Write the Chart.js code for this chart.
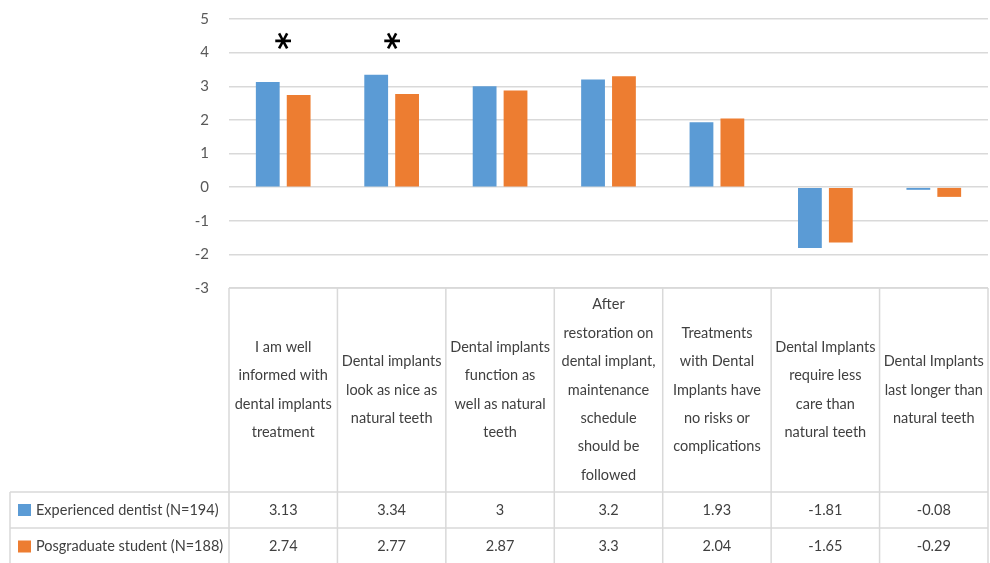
<!DOCTYPE html>
<html>
<head>
<meta charset="utf-8">
<script src="https://cdn.jsdelivr.net/npm/chart.js@4.4.1/dist/chart.umd.min.js"></script>
<style>
  html, body { margin: 0; padding: 0; background: #ffffff; }
  canvas { display: block; }
</style>
</head>
<body>
<canvas id="c" width="990" height="563"></canvas>
<script>
// Survey statements (wrapped as shown in the table header)
const categories = [
  ["I am well", "informed with", "dental implants", "treatment"],
  ["Dental implants", "look as nice as", "natural teeth"],
  ["Dental implants", "function as", "well as natural", "teeth"],
  ["After", "restoration on", "dental implant,", "maintenance", "schedule", "should be", "followed"],
  ["Treatments", "with Dental", "Implants have", "no risks or", "complications"],
  ["Dental Implants", "require less", "care than", "natural teeth"],
  ["Dental Implants", "last longer than", "natural teeth"]
];
const seriesNames = ["Experienced dentist (N=194)", "Posgraduate student (N=188)"];
const experienced = [3.13, 3.34, 3, 3.2, 1.93, -1.81, -0.08];
const postgraduate = [2.74, 2.77, 2.87, 3.3, 2.04, -1.65, -0.29];
// Significant differences are flagged with an asterisk
const significance = ["*", "*", "", "", "", "", ""];
const yTicks = [-3, -2, -1, 0, 1, 2, 3, 4, 5];

const colors = ["#5B9BD5", "#ED7D31"];
const FONT = "Lato, 'Noto Sans', sans-serif";
const GRID = "#d9d9d9";
const TEXT = "#404040";

const HEADER_BOTTOM = 492;
const ROW1_BOTTOM = 528;
const TABLE_LEFT = 10;
const LINE_H = 28.4;
const MARK_LEVEL = 4.5;

const dataTable = {
  id: "dataTable",
  afterDraw(chart) {
    const ctx = chart.ctx;
    const area = chart.chartArea;
    const x = chart.scales.x;
    const n = categories.length;
    const colW = (area.right - area.left) / n;
    const bottom = chart.height;
    ctx.save();
    ctx.strokeStyle = GRID;
    ctx.lineWidth = 1.5;
    ctx.beginPath();
    // header top edge
    ctx.moveTo(area.left, area.bottom); ctx.lineTo(area.right, area.bottom);
    // row separators
    ctx.moveTo(TABLE_LEFT, HEADER_BOTTOM); ctx.lineTo(area.right, HEADER_BOTTOM);
    ctx.moveTo(TABLE_LEFT, ROW1_BOTTOM); ctx.lineTo(area.right, ROW1_BOTTOM);
    // legend column left edge
    ctx.moveTo(TABLE_LEFT, HEADER_BOTTOM); ctx.lineTo(TABLE_LEFT, bottom);
    // column edges
    for (let i = 0; i <= n; i++) {
      const px = area.left + i * colW;
      ctx.moveTo(px, area.bottom); ctx.lineTo(px, bottom);
    }
    ctx.stroke();

    ctx.fillStyle = TEXT;
    ctx.font = "14.5px " + FONT;
    ctx.textAlign = "center";
    ctx.textBaseline = "middle";
    const headMid = (area.bottom + HEADER_BOTTOM) / 2;
    categories.forEach((lines, i) => {
      const cx = x.getPixelForValue(i);
      const y0 = headMid - (lines.length - 1) * LINE_H / 2;
      lines.forEach((t, j) => ctx.fillText(t, cx, y0 + j * LINE_H));
    });

    const rows = [experienced, postgraduate];
    const rowMid = [(HEADER_BOTTOM + ROW1_BOTTOM) / 2, (ROW1_BOTTOM + bottom) / 2 + 1];
    rows.forEach((vals, r) => {
      ctx.textAlign = "center";
      ctx.fillStyle = TEXT;
      vals.forEach((v, i) => ctx.fillText(String(v), x.getPixelForValue(i), rowMid[r]));
      ctx.fillStyle = colors[r];
      ctx.fillRect(18, rowMid[r] - 6, 13, 12);
      ctx.fillStyle = TEXT;
      ctx.textAlign = "left";
      ctx.fillText(seriesNames[r], 36, rowMid[r]);
    });
    ctx.restore();
  },
  afterDatasetsDraw(chart) {
    const ctx = chart.ctx;
    const x = chart.scales.x, y = chart.scales.y;
    ctx.save();
    ctx.fillStyle = "#000000";
    ctx.font = "bold 34px 'DejaVu Sans', sans-serif";
    ctx.textAlign = "center";
    ctx.textBaseline = "middle";
    significance.forEach((s, i) => {
      if (!s) return;
      ctx.save();
      ctx.translate(x.getPixelForValue(i), y.getPixelForValue(MARK_LEVEL));
      ctx.rotate(Math.PI / 2);
      ctx.fillText(s, 5, 8);
      ctx.restore();
    });
    ctx.restore();
  }
};

new Chart(document.getElementById("c"), {
  type: "bar",
  data: {
    labels: categories.map(l => l.join(" ")),
    datasets: [
      { label: seriesNames[0], data: experienced, backgroundColor: colors[0] },
      { label: seriesNames[1], data: postgraduate, backgroundColor: colors[1] }
    ]
  },
  options: {
    responsive: false,
    animation: false,
    categoryPercentage: 0.57,
    barPercentage: 0.77,
    layout: { padding: { top: 19, right: 2, bottom: 563 - 288, left: 0 } },
    plugins: { legend: { display: false }, tooltip: { enabled: false } },
    scales: {
      x: { display: false },
      y: {
        min: yTicks[0],
        max: yTicks[yTicks.length - 1],
        afterBuildTicks(scale) { scale.ticks = yTicks.map(v => ({ value: v })); },
        afterFit(scale) {
          scale.width = 229;
          scale.paddingTop = 0;
          scale.paddingBottom = 0;
        },
        ticks: { padding: 20, color: "#595959", font: { size: 15, family: FONT } },
        grid: { color: GRID, lineWidth: 1.5, drawTicks: false },
        border: { display: false }
      }
    }
  },
  plugins: [dataTable]
});
</script>
</body>
</html>
